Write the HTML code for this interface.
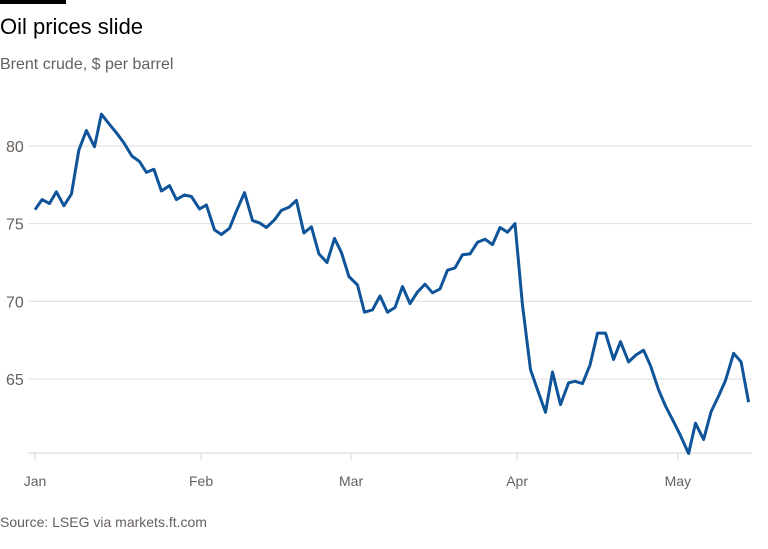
<!DOCTYPE html>
<html><head><meta charset="utf-8"><style>
html,body{margin:0;padding:0;background:#fff;width:768px;height:549px;overflow:hidden;font-family:"Liberation Sans",sans-serif}
</style></head><body>
<svg id="chart" width="768" height="549" xmlns="http://www.w3.org/2000/svg">
<rect x="0" y="0" width="66" height="4" fill="#000"/>
<text x="0" y="34" font-size="22" fill="#000">Oil prices slide</text>
<text x="0" y="69" font-size="16" fill="#66605c">Brent crude, $ per barrel</text>
<g id="grid"></g>
<g id="xaxis"></g>
<path id="line" fill="none" stroke="#0f5499" stroke-width="3" stroke-linejoin="round"/>
<text x="0" y="527" font-size="14" fill="#66605c">Source: LSEG via markets.ft.com</text>
</svg>
<script>
const days=[0,1.3,2.7,4,5.4,6.8,8.2,9.6,11.1,12.4,14,15.2,16.6,18.1,19.5,20.8,22.2,23.6,25.1,26.4,27.9,29.2,30.7,32,33.5,34.8,36.3,37.6,39.1,40.6,41.9,43.2,44.7,46,47.4,48.8,50.2,51.6,53,54.5,55.9,57.2,58.6,60.2,61.5,63,64.4,65.8,67.2,68.6,70,71.4,72.8,74.2,75.6,77,78.4,79.8,81.2,82.6,84,85.4,86.8,88.2,89.6,91,92.5,93.8,95.3,96.6,98.1,99.6,100.8,102.2,103.6,105,106.5,108,109.3,110.8,112.2,113.6,114.9,116.4,117.7,119.2,120.5,122,123.3,124.8,126.2,127.6,128.9,130.4,131.8,133.2];
const prices=[75.9,76.55,76.3,77.05,76.15,76.9,79.75,81.0,79.95,82.05,81.35,80.85,80.2,79.35,79.0,78.3,78.5,77.1,77.45,76.55,76.85,76.75,75.95,76.2,74.6,74.3,74.7,75.8,77.0,75.2,75.05,74.75,75.25,75.85,76.05,76.5,74.4,74.8,73.05,72.5,74.05,73.15,71.6,71.05,69.3,69.45,70.35,69.3,69.6,70.95,69.85,70.6,71.1,70.55,70.8,72.0,72.15,73.0,73.05,73.8,74.0,73.65,74.75,74.45,75.0,69.75,65.6,64.3,62.85,65.45,63.35,64.75,64.85,64.7,65.9,67.95,67.95,66.25,67.4,66.1,66.55,66.85,65.85,64.3,63.25,62.25,61.35,60.2,62.15,61.1,62.9,63.9,64.9,66.65,66.1,63.5];
const yTicks=[65,70,75,80];
const monthLabels=["Jan","Feb","Mar","Apr","May"];
const monthDays=[0,31,59,90,120];

const x=d=>35+d*5.357;
const y=v=>146+(80-v)*15.53;
const NS="http://www.w3.org/2000/svg";
const grid=document.getElementById('grid'),xa=document.getElementById('xaxis');
yTicks.forEach(t=>{
  const l=document.createElementNS(NS,'line');
  l.setAttribute('x1',28);l.setAttribute('x2',752);l.setAttribute('y1',y(t));l.setAttribute('y2',y(t));
  l.setAttribute('stroke','#dedede');l.setAttribute('stroke-width',1);
  
  
  grid.appendChild(l);
  const tx=document.createElementNS(NS,'text');
  tx.setAttribute('x',6);tx.setAttribute('y',y(t)+6);tx.setAttribute('font-size',16);tx.setAttribute('fill','#66605c');
  tx.textContent=t;
  
  
  grid.appendChild(tx);
});
const base=document.createElementNS(NS,'line');
base.setAttribute('x1',28);base.setAttribute('x2',752);base.setAttribute('y1',453);base.setAttribute('y2',453);
base.setAttribute('stroke','#d6d6d6');base.setAttribute('stroke-width',1);


xa.appendChild(base);
monthDays.forEach((d,i)=>{
  const tk=document.createElementNS(NS,'line');
  tk.setAttribute('x1',x(d));tk.setAttribute('x2',x(d));tk.setAttribute('y1',453);tk.setAttribute('y2',460);
  tk.setAttribute('stroke','#d6d6d6');
  
  
  xa.appendChild(tk);
  const tx=document.createElementNS(NS,'text');
  tx.setAttribute('x',x(d));tx.setAttribute('y',486);tx.setAttribute('font-size',14);tx.setAttribute('fill','#66605c');
  tx.setAttribute('text-anchor','middle');
  tx.textContent=monthLabels[i];
  
  
  xa.appendChild(tx);
});
document.getElementById('line').setAttribute('d',days.map((d,i)=>(i?'L':'M')+x(d).toFixed(1)+','+y(prices[i]).toFixed(1)).join(''));
</script>
</body></html>
